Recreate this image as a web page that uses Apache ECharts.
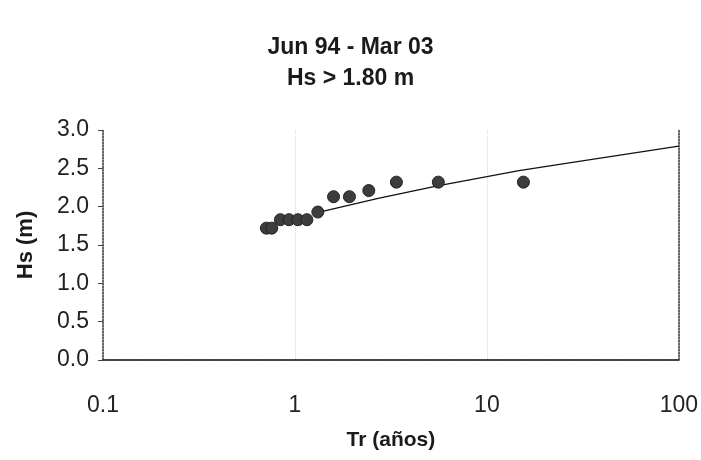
<!DOCTYPE html>
<html>
<head>
<meta charset="utf-8">
<script src="https://cdn.jsdelivr.net/npm/echarts@6/dist/echarts.min.js"></script>
<style>html,body{margin:0;padding:0;background:#fff}#c{width:701px;height:460px}</style>
</head>
<body>
<div id="c"></div>
<script>
// Observed events: return period Tr (years) and Hs (m)
const trValues = [0.71, 0.757, 0.84, 0.931, 1.036, 1.154, 1.316, 1.589, 1.923, 2.425, 3.378, 5.586, 15.5];
const hsValues = [1.72, 1.72, 1.83, 1.83, 1.83, 1.83, 1.93, 2.13, 2.13, 2.21, 2.32, 2.32, 2.32];
// Fitted curve samples
const fitTr = [1.34, 2.75, 5.53, 14.7, 30.2, 100];
const fitHs = [1.93, 2.11, 2.27, 2.47, 2.59, 2.79];
const xTicks = [0.1, 1, 10, 100];
const yTicks = [0.0, 0.5, 1.0, 1.5, 2.0, 2.5, 3.0];

const FONT = 'Liberation Sans, Arial, sans-serif';
const chart = echarts.init(document.getElementById('c'), null, {renderer: 'canvas'});
chart.setOption({
  backgroundColor: '#fff',
  animation: false,
  title: {
    text: 'Jun 94 - Mar 03\nHs > 1.80 m',
    left: 'center', top: 27,
    textStyle: {fontFamily: FONT, fontWeight: 'bold', fontSize: 23, color: '#1a1a1a', lineHeight: 31}
  },
  grid: {left: 103, right: 20, top: 130, bottom: 100},
  xAxis: [{
    type: 'log', logBase: 10, min: xTicks[0], max: xTicks[xTicks.length - 1],
    name: 'Tr (años)', nameLocation: 'middle', nameGap: 70,
    nameTextStyle: {fontFamily: FONT, fontWeight: 'bold', fontSize: 21, color: '#1a1a1a'},
    axisLine: {lineStyle: {color: '#333', width: 1.5}},
    axisTick: {show: false},
    axisLabel: {fontFamily: FONT, fontSize: 23, color: '#222', margin: 34,
      formatter: v => String(+v.toPrecision(3))},
    splitLine: {show: true, lineStyle: {color: '#d8d8d8', type: 'dotted', width: 1}},
    minorTick: {show: false}
  }, {
    type: 'log', logBase: 10, min: xTicks[0], max: xTicks[xTicks.length - 1], position: 'top',
    axisLine: {show: true, lineStyle: {color: '#333', width: 1.5, type: 'dotted'}},
    axisTick: {show: false}, axisLabel: {show: false}, splitLine: {show: false}
  }],
  yAxis: [{
    type: 'value', min: 0, max: 3, interval: 0.5,
    name: 'Hs (m)', nameLocation: 'middle', nameGap: 66, nameRotate: 90,
    nameTextStyle: {fontFamily: FONT, fontWeight: 'bold', fontSize: 22, color: '#1a1a1a'},
    axisLine: {show: true, lineStyle: {color: '#333', width: 1.5, type: 'dotted'}},
    axisTick: {show: true, length: 5, lineStyle: {color: '#444'}},
    axisLabel: {fontFamily: FONT, fontSize: 23, color: '#222', margin: 14,
      formatter: v => v.toFixed(1)},
    splitLine: {show: false}
  }, {
    type: 'value', min: 0, max: 3, interval: 0.5, position: 'right',
    axisLine: {show: true, lineStyle: {color: '#333', width: 1.5, type: 'dotted'}},
    axisTick: {show: false}, axisLabel: {show: false}, splitLine: {show: false}
  }],
  series: [{
    type: 'line',
    data: fitTr.map((t, i) => [t, fitHs[i]]),
    showSymbol: false, symbol: 'none',
    lineStyle: {color: '#111', width: 1.3},
    z: 2
  }, {
    type: 'scatter',
    data: trValues.map((t, i) => [t, hsValues[i]]),
    symbolSize: 12,
    itemStyle: {color: '#3d3d3d', borderColor: '#222', borderWidth: 1, opacity: 1},
    z: 3
  }]
});
</script>
</body>
</html>
